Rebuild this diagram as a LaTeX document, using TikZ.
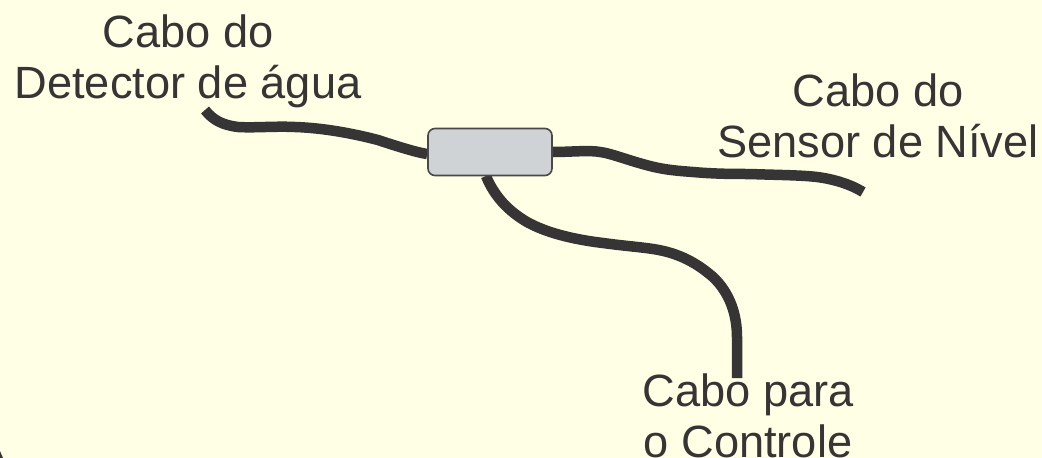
\documentclass[tikz,border=0pt]{standalone}
\usepackage{fontspec}
\usetikzlibrary{backgrounds}
\setmainfont{Liberation Sans}
\definecolor{cablecol}{HTML}{373435}
\definecolor{boxedge}{HTML}{4A4849}
\definecolor{boxfill}{HTML}{D0D3D5}
\definecolor{bgcol}{HTML}{FFFFE5}
\tikzset{
  x=1pt,y=-1pt,
  cable/.style={draw=cablecol,line width=10.5pt,line cap=butt},
  box/.style={draw=boxedge,fill=boxfill,line width=1.6pt,rounded corners=7pt,minimum width=124pt,minimum height=47pt,inner sep=0pt},
  lab/.style={text=cablecol,align=center,inner sep=0pt,font=\fontsize{45.2}{50.5}\selectfont}
}
\begin{document}
\begin{tikzpicture}
\useasboundingbox (0,0) rectangle (1042,458);
\node[box] (conn) at (490,152) {};
\coordinate (endA) at (205,110);
\coordinate (endB) at (863,192);
\coordinate (endC) at (737,378);
\begin{scope}[on background layer]
\fill[bgcol] (0,0) rectangle (1042,458);
\fill[cablecol] (0,451) -- (3,458) -- (0,458) -- cycle;
\draw[cable] (conn.west) ++(0,2) .. controls (420,153) and (405,149) .. (378,140)
  .. controls (355,134) and (325,128) .. (295,127) .. controls (275,126) and (255,128) .. (238,127)
  .. controls (222,125) and (213,120) .. (endA);
\draw[cable] (conn.east) .. controls (570,152) and (590,150) .. (600,152)
  .. controls (610,153) and (630,161) .. (650,166) .. controls (665,170) and (680,171) .. (693,172)
  .. controls (715,174) and (735,174) .. (750,174) .. controls (775,175) and (800,175) .. (817,177)
  .. controls (833,179) and (850,184) .. (endB);
\draw[cable] (486,176) .. controls (495,198) and (510,212) .. (527,222)
  .. controls (545,232) and (570,239) .. (603,243) .. controls (625,246) and (640,247) .. (653,249)
  .. controls (680,253) and (698,264) .. (713,277) .. controls (730,293) and (737,315) .. (737,337)
  -- (endC);
\end{scope}
\node[lab,anchor=base] (detector) at (188,98) {Cabo do\\Detector de água};
\node[lab,anchor=base] (sensor) at (878,157) {Cabo do\\Sensor de Nível};
\node[lab,anchor=base] (controle) at (748,457) {Cabo para\\o Controle};
\end{tikzpicture}
\end{document}
